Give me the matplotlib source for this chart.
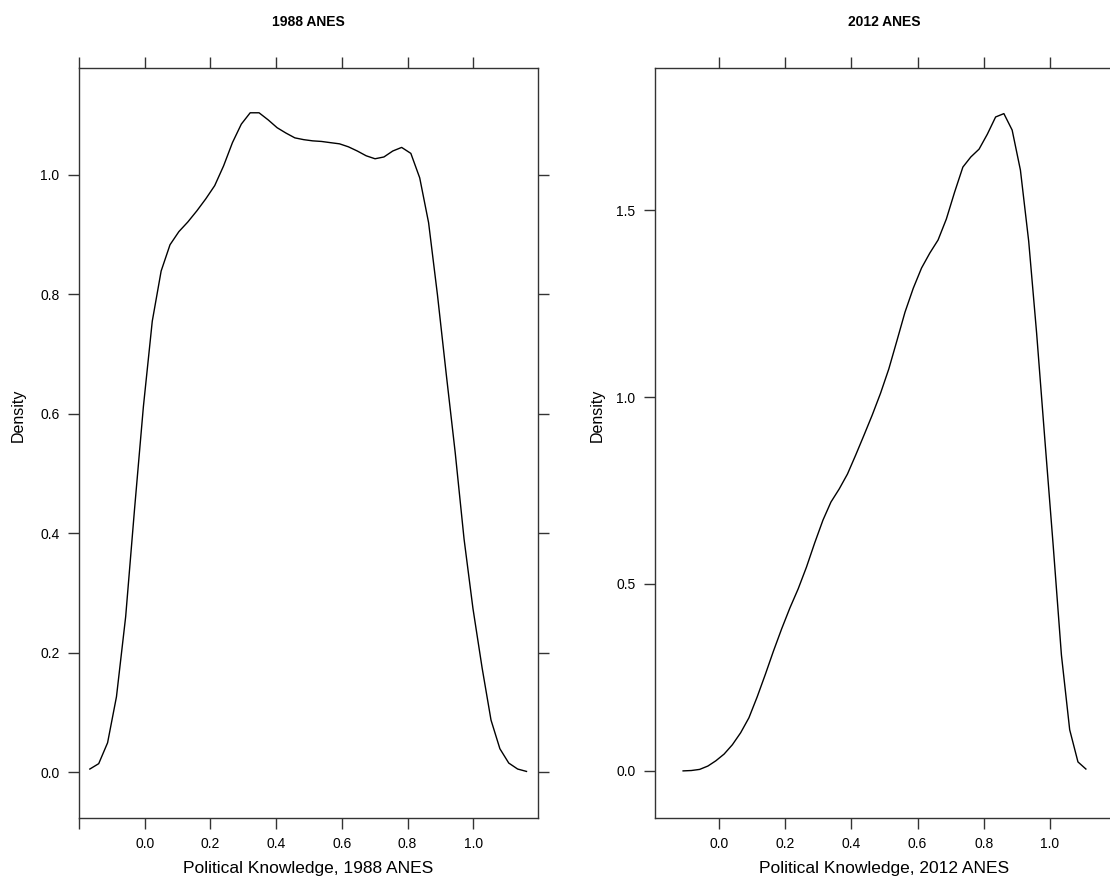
import matplotlib
matplotlib.use("Agg")
import matplotlib.pyplot as plt

plt.rcParams['font.family'] = ['Liberation Sans', 'DejaVu Sans']

# density estimates, 1988 ANES
knowledge_1988 = [-0.167, -0.140, -0.113, -0.086, -0.058, -0.031, -0.004, 0.023, 0.050, 0.077,
                  0.104, 0.131, 0.159, 0.186, 0.213, 0.240, 0.267, 0.294, 0.321, 0.348,
                  0.376, 0.403, 0.430, 0.457, 0.484, 0.511, 0.538, 0.565, 0.593, 0.620,
                  0.647, 0.674, 0.701, 0.728, 0.755, 0.782, 0.810, 0.837, 0.864, 0.891,
                  0.918, 0.945, 0.972, 0.999, 1.027, 1.054, 1.081, 1.108, 1.135, 1.162]
density_1988 = [0.005, 0.014, 0.049, 0.126, 0.260, 0.440, 0.612, 0.755, 0.839, 0.883,
                0.905, 0.921, 0.940, 0.960, 0.982, 1.015, 1.054, 1.085, 1.104, 1.104,
                1.092, 1.079, 1.070, 1.062, 1.059, 1.057, 1.056, 1.054, 1.052, 1.047,
                1.040, 1.032, 1.027, 1.030, 1.040, 1.046, 1.036, 0.995, 0.920, 0.799,
                0.665, 0.535, 0.390, 0.274, 0.174, 0.087, 0.039, 0.015, 0.005, 0.001]

# density estimates, 2012 ANES
knowledge_2012 = [-0.109, -0.084, -0.059, -0.034, -0.010, 0.015, 0.040, 0.065, 0.090, 0.115,
                  0.140, 0.164, 0.189, 0.214, 0.239, 0.264, 0.289, 0.314, 0.338, 0.363,
                  0.388, 0.413, 0.438, 0.463, 0.488, 0.513, 0.538, 0.562, 0.587, 0.612,
                  0.637, 0.662, 0.687, 0.712, 0.737, 0.761, 0.786, 0.811, 0.836, 0.861,
                  0.886, 0.911, 0.936, 0.960, 0.985, 1.010, 1.035, 1.060, 1.085, 1.109]
density_2012 = [0.000, 0.001, 0.004, 0.013, 0.027, 0.045, 0.070, 0.102, 0.142, 0.198,
                0.259, 0.320, 0.380, 0.436, 0.487, 0.545, 0.610, 0.671, 0.719, 0.754,
                0.794, 0.845, 0.898, 0.952, 1.010, 1.075, 1.152, 1.227, 1.291, 1.345,
                1.385, 1.420, 1.476, 1.548, 1.615, 1.642, 1.663, 1.703, 1.749, 1.758,
                1.714, 1.607, 1.417, 1.171, 0.885, 0.604, 0.310, 0.110, 0.024, 0.005]

xticks_1988 = [-0.2, 0.0, 0.2, 0.4, 0.6, 0.8, 1.0]
xticks_2012 = [0.0, 0.2, 0.4, 0.6, 0.8, 1.0]
yticks_1988 = [0.0, 0.2, 0.4, 0.6, 0.8, 1.0]
yticks_2012 = [0.0, 0.5, 1.0, 1.5]

W, H = 1110, 881
fig = plt.figure(figsize=(W / 100, H / 100), dpi=100)


def panel(left_px, xs, ys, xlim, ylim, xticks, yticks, title, xlabel, ylabel_px):
    ax = fig.add_axes([left_px / W, 1 - 818 / H, 459 / W, 750 / H])
    ax.plot(xs, ys, color='black', lw=1.0)
    ax.set_xlim(*xlim)
    ax.set_ylim(*ylim)
    ax.set_xticks(xticks)
    ax.set_xticklabels(['' if t < -0.1 else f'{t:.1f}' for t in xticks])
    ax.set_yticks(yticks)
    ax.set_yticklabels([f'{t:.1f}' for t in yticks])
    ax.tick_params(direction='out', length=8, width=1, pad=6, labelsize=10,
                   top=True, right=True, color='#333333')
    for s in ax.spines.values():
        s.set_color('#333333')
        s.set_linewidth(1)
    cx = (left_px + 459 / 2) / W
    fig.text(cx, 1 - 868 / H, xlabel, ha='center', va='center', fontsize=12.5)
    fig.text(cx, 1 - 22 / H, title, ha='center', va='center',
             fontsize=10, fontweight='bold')
    fig.text(ylabel_px / W, 1 - 415 / H, 'Density', rotation=90,
             ha='center', va='center', fontsize=11.5)
    return ax


panel(79, knowledge_1988, density_1988, (-0.2, 1.197), (-0.077, 1.179),
      xticks_1988, yticks_1988, '1988 ANES', 'Political Knowledge, 1988 ANES', 18)
panel(655, knowledge_2012, density_2012, (-0.194, 1.194), (-0.126, 1.880),
      xticks_2012, yticks_2012, '2012 ANES', 'Political Knowledge, 2012 ANES', 597)

fig.savefig('out.png', dpi=100)
